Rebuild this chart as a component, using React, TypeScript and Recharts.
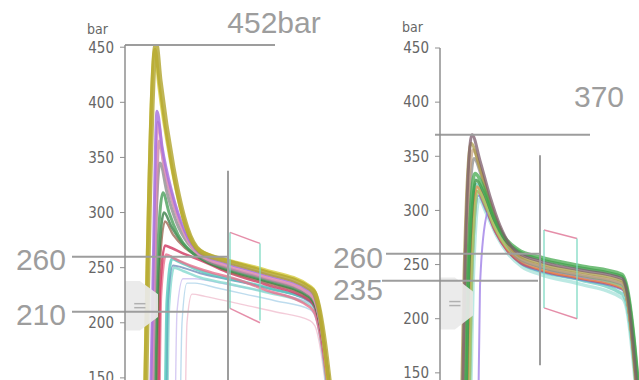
import React from 'react';
import { LineChart, Line, XAxis, YAxis, ReferenceLine, ReferenceArea } from 'recharts';

// ---------- data: [time, bar] ----------
const yTicks = [150, 200, 250, 300, 350, 400, 450];
const unitLabel = 'bar';

// left panel curves
const lOlive = [[20,100],[23,250],[31,452],[35,420],[48,341],[62,286],[75,265],[102,256],[140,246],[185,231],[190,226],[210,100]];
const lYellow = [[19,100],[22,240],[30,448],[34,415],[46,345],[60,290],[74,266],[102,257],[140,248],[185,233],[190,228],[208,100]];
const lPurple = [[25,100],[28,240],[32,392],[37,360],[47,318],[60,283],[74,264],[102,254],[140,244],[185,229],[190,223],[209,100]];
const lPink = [[26,100],[29,250],[33,382],[38,350],[48,312],[60,280],[74,262],[102,252],[140,242],[185,226],[190,220],[209,100]];
const lMauve = [[27,100],[30,250],[34,365],[40,336],[50,302],[62,277],[75,262],[102,251],[140,241],[185,226],[190,220],[209,100]];
const lGray = [[27,100],[30,260],[35,345],[42,318],[52,290],[63,272],[76,260],[102,250],[140,240],[185,225],[190,219],[210,100]];
const lGreen = [[29,100],[32,250],[38,318],[44,300],[53,280],[64,266],[78,258],[102,249],[140,239],[185,224],[190,218],[210,100]];
const lDarkGreen = [[30,100],[33,240],[39,300],[46,288],[56,274],[68,263],[80,256],[102,248],[140,238],[185,223],[190,216],[210,100]];
const lBrown = [[31,100],[34,240],[40,292],[48,280],[60,268],[78,258],[102,247],[140,237],[185,222],[190,216],[210,100]];
const lRed = [[33,100],[35,230],[40,270],[46,268],[58,263],[75,257],[102,246],[140,235],[185,220],[190,214],[209,100]];
const lSalmon = [[34,100],[36,225],[41,262],[50,258],[65,252],[85,246],[110,240],[140,230],[185,214],[190,208],[208,100]];
const lTeal = [[40,100],[42,220],[47,258],[55,255],[70,249],[90,243],[115,238],[150,230],[185,220],[190,214],[208,100]];
const lBlueGray = [[41,100],[43,220],[48,252],[58,250],[75,245],[100,240],[140,232],[185,219],[190,213],[208,100]];
const lTeal2 = [[42,100],[44,215],[49,250],[58,247],[75,241],[100,236],[140,228],[185,216],[190,210],[207,100]];
const lLavender = [[50,100],[52,210],[58,240],[70,240],[95,236],[130,230],[185,218],[190,212],[207,100]];
const lLightBlue = [[55,100],[57,200],[62,236],[70,236],[90,232],[120,226],[150,220],[185,212],[190,206],[206,100]];
const lPalePink = [[60,100],[62,200],[67,226],[80,224],[110,218],[150,210],[185,202],[190,197],[206,100]];

// left tolerance window
const lBoxTop = [[105,282],[135,272]];
const lBoxRight = [[135,272],[135,202]];
const lBoxBottom = [[105,213],[135,200]];
const lBoxLeft = [[105,282],[105,213]];

// right panel curves
const rPlum = [[22,100],[25,250],[32,370],[40,346],[50,313],[60,286],[75,263],[100,253],[140,245],[182,237],[186,229],[200,100]];
const rOlive = [[21,100],[24,240],[31,362],[39,342],[49,310],[60,283],[75,261],[100,251],[140,243],[182,235],[186,227],[199,100]];
const rTan = [[23,100],[26,250],[33,356],[41,336],[51,305],[62,279],[76,259],[100,249],[140,241],[182,233],[186,225],[200,100]];
const rGray = [[24,100],[27,250],[34,348],[42,330],[52,300],[63,276],[77,257],[100,248],[140,240],[182,232],[186,224],[201,100]];
const rGreen = [[25,100],[28,250],[35,334],[43,322],[53,296],[64,276],[78,264],[100,257],[140,249],[182,241],[186,233],[202,100]];
const rDarkGreen = [[26,100],[29,245],[36,328],[44,316],[54,292],[65,273],[79,262],[100,255],[140,247],[182,239],[186,231],[202,100]];
const rTeal = [[27,100],[30,240],[36,324],[44,310],[54,286],[66,266],[80,252],[100,244],[140,236],[182,223],[186,216],[200,100]];
const rLightGreen = [[29,100],[32,240],[38,318],[45,306],[55,284],[67,266],[80,256],[100,248],[140,240],[182,230],[186,222],[201,100]];
const rPurple = [[38,100],[40,230],[45,288],[49,300],[56,288],[66,272],[78,258],[100,248],[140,239],[182,230],[186,223],[201,100]];
const rOrange = [[28,100],[31,240],[37,322],[45,308],[55,284],[67,265],[80,254],[100,246],[140,238],[182,229],[186,222],[200,100]];
const rRed = [[28,100],[31,235],[37,318],[45,304],[55,281],[67,263],[80,252],[100,245],[140,237],[182,228],[186,221],[200,100]];
const rPaleTeal = [[30,100],[33,230],[39,310],[47,296],[57,276],[69,259],[82,248],[100,241],[140,232],[182,219],[186,212],[199,100]];
const rBlue = [[29,100],[32,235],[38,314],[46,300],[56,279],[68,262],[81,251],[100,244],[140,236],[182,227],[186,220],[200,100]];

// right tolerance window
const rBoxTop = [[104,282],[137,274]];
const rBoxRight = [[137,274],[137,200]];
const rBoxBottom = [[104,210],[137,200]];
const rBoxLeft = [[104,282],[104,210]];

// annotations
const leftPeak = { value: 452, from: 0, to: 150, text: '452bar' };
const leftUpper = { value: 260, from: -53, to: 103, text: '260' };
const leftLower = { value: 210, from: -53, to: 103, text: '210' };
const leftCursor = { at: 103, from: 338, to: 100 };
const rightPeak = { value: 370, from: -5, to: 150, text: '370' };
const rightUpper = { value: 260, from: -54, to: 100, text: '260' };
const rightLower = { value: 235, from: -58, to: 98, text: '235' };
const rightCursor = { at: 100, from: 351, to: 157 };
const leftHandle = { x1: 0, x2: 33, y1: 193, y2: 238 };
const rightHandle = { x1: 0, x2: 33, y1: 190, y2: 238 };

// ---------- helpers ----------
const pts = (a: number[][]) => a.map(([t, v]) => ({ t, v }));

const leftSeries = [
  { d: lPalePink, c: '#f0bfd0', w: 1.4 },
  { d: lLightBlue, c: '#aed3ea', w: 1.4 },
  { d: lLavender, c: '#cdbff0', w: 1.4 },
  { d: lTeal2, c: '#86dad0', w: 2.6 },
  { d: lBlueGray, c: '#7290bb', w: 2 },
  { d: lTeal, c: '#55c8bd', w: 3 },
  { d: lSalmon, c: '#e8708c', w: 2.6 },
  { d: lRed, c: '#d0365f', w: 2.6 },
  { d: lBrown, c: '#9c6b55', w: 2.4 },
  { d: lDarkGreen, c: '#3a7f48', w: 2.6 },
  { d: lGreen, c: '#4b9f5b', w: 3 },
  { d: lGray, c: '#8e8e8e', w: 3 },
  { d: lMauve, c: '#c48aa8', w: 3 },
  { d: lPink, c: '#e596bd', w: 3 },
  { d: lPurple, c: '#a36fe0', w: 3 },
  { d: lYellow, c: '#d6cc3c', w: 3.5 },
  { d: lOlive, c: '#b0a42c', w: 5 },
];

const rightSeries = [
  { d: rPaleTeal, c: '#a5e2da', w: 3.5 },
  { d: rTeal, c: '#6fcfbf', w: 3.5 },
  { d: rBlue, c: '#5f8fd0', w: 2.2 },
  { d: rRed, c: '#d4495b', w: 2.4 },
  { d: rOrange, c: '#e8914a', w: 2.8 },
  { d: rPurple, c: '#9a78e6', w: 2 },
  { d: rLightGreen, c: '#9fd36d', w: 2.8 },
  { d: rGray, c: '#8c8c8c', w: 3 },
  { d: rTan, c: '#c4a482', w: 3 },
  { d: rOlive, c: '#a99b4a', w: 3 },
  { d: rDarkGreen, c: '#2f8c3b', w: 3 },
  { d: rGreen, c: '#45aa4f', w: 3.5 },
  { d: rPlum, c: '#7c5c6c', w: 3 },
];

const PINK = '#e07a9a';
const TEAL = '#7dd8c2';
const ANN = '#9d9d9d';
const BIG_FONT = "'Liberation Sans', Arial, sans-serif";
const AXIS_FONT = "'DejaVu Sans Condensed', 'Liberation Sans Narrow', sans-serif";

const bigLabel = (text: string, side: 'start' | 'end', dx: number, dy: number, anchor: string) => (p: any) => {
  const vb = p.viewBox || {};
  const x = (side === 'start' ? vb.x : vb.x + vb.width) + dx;
  return (
    <text x={x} y={vb.y + dy} textAnchor={anchor} fill={ANN} fontSize={30} fontFamily={BIG_FONT}>
      {text}
    </text>
  );
};

const unit = (dx: number, dy: number) => (p: any) => {
  const vb = p.viewBox || {};
  return (
    <text x={vb.x + dx} y={vb.y + dy} fill="#666" fontSize={14} fontFamily={AXIS_FONT}>
      {unitLabel}
    </text>
  );
};

const HandleShape = (p: any) => {
  const { x, y, width: w, height: h } = p;
  if (x == null) return null;
  const d = `M${x},${y} L${x + w * 0.45},${y} L${x + w},${y + h * 0.27} L${x + w},${y + h * 0.73} L${x + w * 0.45},${y + h} L${x},${y + h} Z`;
  return (
    <g>
      <path d={d} fill="#e9e9e9" fillOpacity={0.92} />
      <line x1={x + w * 0.28} x2={x + w * 0.62} y1={y + h / 2 - 2} y2={y + h / 2 - 2} stroke="#b0b0b0" strokeWidth={1.5} />
      <line x1={x + w * 0.28} x2={x + w * 0.62} y1={y + h / 2 + 2} y2={y + h / 2 + 2} stroke="#b0b0b0" strokeWidth={1.5} />
    </g>
  );
};

const boxLine = (d: number[][], c: string, k: string) => (
  <Line key={k} data={pts(d)} dataKey="v" type="linear" stroke={c} strokeWidth={1.5} strokeOpacity={0.85}
    dot={false} activeDot={false} isAnimationActive={false} />
);

const axisProps = {
  ticks: yTicks,
  tick: { fill: '#666', fontSize: 15, fontFamily: AXIS_FONT },
  axisLine: { stroke: '#8f8f8f', strokeWidth: 1.5 },
  tickLine: { stroke: '#8f8f8f' },
  tickSize: 5,
  tickMargin: 6,
  width: 60,
  allowDataOverflow: true,
  type: 'number' as const,
};

export default function App() {
  return (
    <div style={{ position: 'absolute', left: 0, top: 0, width: 639, height: 380, overflow: 'hidden', background: '#fff' }}>
      {/* left panel */}
      <div style={{ position: 'absolute', left: 0, top: 0 }}>
        <LineChart width={340} height={433} margin={{ top: 45, right: 0, bottom: 0, left: 65 }}>
          <XAxis type="number" dataKey="t" domain={[0, 215]} hide allowDataOverflow />
          <YAxis {...axisProps} domain={[100, 452]} label={unit(22, -11)} />
          {leftSeries.map((s, i) => (
            <Line key={'l' + i} data={pts(s.d)} dataKey="v" type="monotone" stroke={s.c} strokeWidth={s.w}
              strokeOpacity={0.8} dot={false} activeDot={false} isAnimationActive={false} />
          ))}
          {boxLine(lBoxTop, PINK, 'lbt')}
          {boxLine(lBoxRight, TEAL, 'lbr')}
          {boxLine(lBoxBottom, PINK, 'lbb')}
          {boxLine(lBoxLeft, TEAL, 'lbl')}
          <ReferenceArea x1={leftHandle.x1} x2={leftHandle.x2} y1={leftHandle.y1} y2={leftHandle.y2}
            ifOverflow="visible" shape={HandleShape} zIndex={450} />
          <ReferenceLine ifOverflow="visible" stroke={ANN} strokeWidth={2} zIndex={460}
            segment={[{ x: leftPeak.from, y: leftPeak.value }, { x: leftPeak.to, y: leftPeak.value }]}
            label={bigLabel(leftPeak.text, 'end', -1, -12, 'middle')} />
          <ReferenceLine ifOverflow="visible" stroke={ANN} strokeWidth={2} zIndex={460}
            segment={[{ x: leftUpper.from, y: leftUpper.value }, { x: leftUpper.to, y: leftUpper.value }]}
            label={bigLabel(leftUpper.text, 'start', -6, 13, 'end')} />
          <ReferenceLine ifOverflow="visible" stroke={ANN} strokeWidth={2} zIndex={460}
            segment={[{ x: leftLower.from, y: leftLower.value }, { x: leftLower.to, y: leftLower.value }]}
            label={bigLabel(leftLower.text, 'start', -6, 13, 'end')} />
          <ReferenceLine ifOverflow="visible" stroke={ANN} strokeWidth={2} zIndex={460}
            segment={[{ x: leftCursor.at, y: leftCursor.from }, { x: leftCursor.at, y: leftCursor.to }]} />
        </LineChart>
      </div>
      {/* right panel */}
      <div style={{ position: 'absolute', left: 320, top: 0 }}>
        <LineChart width={320} height={427} margin={{ top: 48, right: 0, bottom: 0, left: 60 }}>
          <XAxis type="number" dataKey="t" domain={[0, 200]} hide allowDataOverflow />
          <YAxis {...axisProps} domain={[100, 450]} label={unit(22, -16)} />
          {rightSeries.map((s, i) => (
            <Line key={'r' + i} data={pts(s.d)} dataKey="v" type="monotone" stroke={s.c} strokeWidth={s.w}
              strokeOpacity={0.75} dot={false} activeDot={false} isAnimationActive={false} />
          ))}
          {boxLine(rBoxTop, PINK, 'rbt')}
          {boxLine(rBoxRight, TEAL, 'rbr')}
          {boxLine(rBoxBottom, PINK, 'rbb')}
          {boxLine(rBoxLeft, TEAL, 'rbl')}
          <ReferenceArea x1={rightHandle.x1} x2={rightHandle.x2} y1={rightHandle.y1} y2={rightHandle.y2}
            ifOverflow="visible" shape={HandleShape} zIndex={450} />
          <ReferenceLine ifOverflow="visible" stroke={ANN} strokeWidth={2} zIndex={460}
            segment={[{ x: rightPeak.from, y: rightPeak.value }, { x: rightPeak.to, y: rightPeak.value }]}
            label={bigLabel(rightPeak.text, 'end', 9, -28, 'middle')} />
          <ReferenceLine ifOverflow="visible" stroke={ANN} strokeWidth={2} zIndex={460}
            segment={[{ x: rightUpper.from, y: rightUpper.value }, { x: rightUpper.to, y: rightUpper.value }]}
            label={bigLabel(rightUpper.text, 'start', -3, 14, 'end')} />
          <ReferenceLine ifOverflow="visible" stroke={ANN} strokeWidth={2} zIndex={460}
            segment={[{ x: rightLower.from, y: rightLower.value }, { x: rightLower.to, y: rightLower.value }]}
            label={bigLabel(rightLower.text, 'start', 1, 19, 'end')} />
          <ReferenceLine ifOverflow="visible" stroke={ANN} strokeWidth={2} zIndex={460}
            segment={[{ x: rightCursor.at, y: rightCursor.from }, { x: rightCursor.at, y: rightCursor.to }]} />
        </LineChart>
      </div>
    </div>
  );
}
